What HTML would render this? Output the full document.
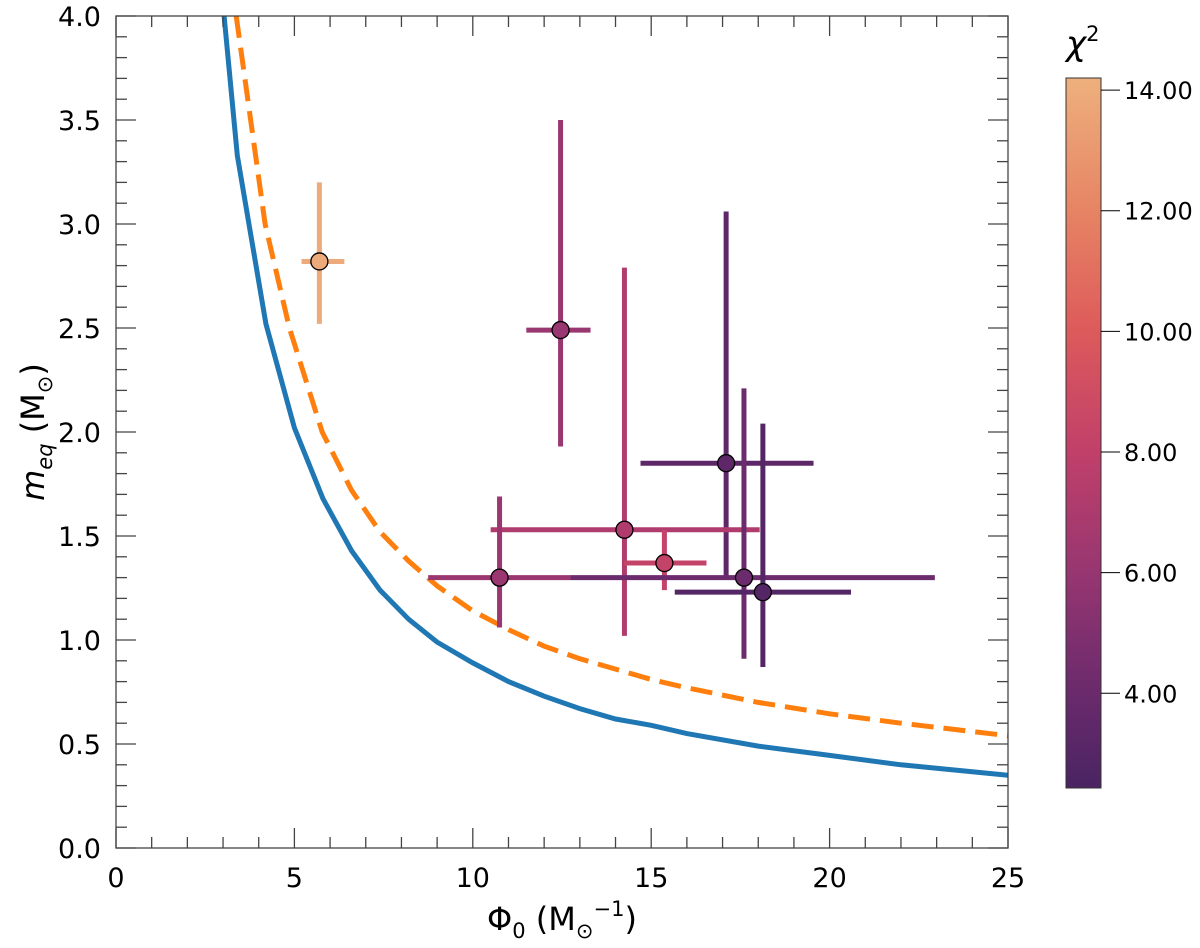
<!DOCTYPE html>
<html><head><meta charset="utf-8"><style>
body{margin:0;background:#fff;}
svg{display:block;font-family:"DejaVu Sans","Liberation Sans",sans-serif;}
</style></head><body>
<svg id="chart" width="1200" height="948" viewBox="0 0 1200 948" xmlns="http://www.w3.org/2000/svg">
<defs>
<linearGradient id="cbgrad" x1="0" y1="1" x2="0" y2="0">
<stop offset="0" stop-color="#4a2462"/><stop offset="0.133" stop-color="#6a2a6c"/><stop offset="0.303" stop-color="#973671"/><stop offset="0.473" stop-color="#c0406a"/><stop offset="0.643" stop-color="#dd5a5b"/><stop offset="0.813" stop-color="#e68464"/><stop offset="1" stop-color="#eeb07d"/>
</linearGradient>
</defs>
<g id="plot"></g>
<g id="cbar"></g>
</svg>
<script>
const xTicks=[0,5,10,15,20,25];
const yTicks=[0.0,0.5,1.0,1.5,2.0,2.5,3.0,3.5,4.0];
const blueX=[3.03,3.4,4.2,5.0,5.8,6.6,7.4,8.2,9,10,11,12,13,14,15,16,18,20,22,25];
const blueY=[4.0,3.33,2.52,2.02,1.68,1.43,1.24,1.1,0.99,0.89,0.80,0.73,0.67,0.62,0.59,0.55,0.49,0.445,0.40,0.35];
const orangeX=[3.37,4.18,4.86,5.78,6.6,7.4,8.2,9,10,11,12,13,14,15,16,18,20,22,25];
const orangeY=[4.0,3.0,2.5,2.0,1.72,1.52,1.38,1.26,1.14,1.05,0.97,0.91,0.86,0.81,0.77,0.70,0.645,0.60,0.54];
const ptX=[5.7,12.46,17.1,14.25,15.37,10.75,17.6,18.13];
const ptY=[2.82,2.49,1.85,1.53,1.37,1.30,1.30,1.23];
const xLo=[5.2,11.5,14.7,10.5,14.23,8.75,12.74,15.66];
const xHi=[6.4,13.3,19.55,18.04,16.55,12.75,22.95,20.6];
const yLo=[2.52,1.93,1.30,1.02,1.24,1.06,0.91,0.87];
const yHi=[3.20,3.50,3.06,2.79,1.53,1.69,2.21,2.04];
const chi2=[13.9,6.1,3.4,7.2,8.2,6.2,4.1,2.9];
const cbTicks=[4,6,8,10,12,14];

const NS="http://www.w3.org/2000/svg";
const L=116,R=1008,T=16,B=848;
const sx=v=>L+(v/25)*(R-L);
const sy=v=>B-(v/4)*(B-T);
const CB={x:1066,w:35,top:78,bot:788,vmin:2.43,vmax:14.2};
const cy=v=>CB.bot-(v-CB.vmin)/(CB.vmax-CB.vmin)*(CB.bot-CB.top);
const stops=[[2.43,[74,36,98]],[4,[106,42,108]],[6,[151,54,113]],[8,[192,64,106]],[10,[221,90,91]],[12,[230,132,100]],[14.2,[238,176,125]]];
function cmap(v){for(let i=0;i<stops.length-1;i++){const a=stops[i],b=stops[i+1];if(v<=b[0]||i==stops.length-2){let t=Math.max(0,Math.min(1,(v-a[0])/(b[0]-a[0])));return 'rgb('+a[1].map((c,k)=>Math.round(c+(b[1][k]-c)*t)).join(',')+')';}}}
function el(tag,attrs,parent){const e=document.createElementNS(NS,tag);for(const k in attrs)e.setAttribute(k,attrs[k]);parent.appendChild(e);return e;}
const plot=document.getElementById('plot');
const cbar=document.getElementById('cbar');

function pathFrom(xs,ys){return xs.map((x,i)=>(i?'L':'M')+sx(x).toFixed(1)+','+sy(ys[i]).toFixed(1)).join(' ');}
const clip=el('clipPath',{id:'pc'},plot);el('rect',{x:L,y:T,width:R-L,height:B-T},clip);
const blue=el('path',{d:pathFrom(blueX,blueY),fill:'none',stroke:'#1f77b4','stroke-width':5,'clip-path':'url(#pc)'},plot);


const orange=el('path',{d:pathFrom(orangeX,orangeY),fill:'none',stroke:'#ff7f0e','stroke-width':5,'stroke-dasharray':'22,10','clip-path':'url(#pc)'},plot);



for(let i=0;i<ptX.length;i++){
  const c=cmap(chi2[i]);
  const g=el('g',{},plot);
  
  
  el('line',{x1:sx(xLo[i]),x2:sx(xHi[i]),y1:sy(ptY[i]),y2:sy(ptY[i]),stroke:c,'stroke-width':5},g);
  el('line',{x1:sx(ptX[i]),x2:sx(ptX[i]),y1:sy(yLo[i]),y2:sy(yHi[i]),stroke:c,'stroke-width':5},g);
}
for(let i=0;i<ptX.length;i++){
  const m=el('circle',{cx:sx(ptX[i]),cy:sy(ptY[i]),r:8.5,fill:cmap(chi2[i]),stroke:'#000','stroke-width':1.3},plot);
  
  
}

const fr=el('rect',{x:L,y:T,width:R-L,height:B-T,fill:'none',stroke:'#444','stroke-width':1.3},plot);


for(let v=0;v<=25;v+=1){
  const maj=v%5==0,len=maj?20:11,x=sx(v);
  el('line',{x1:x,x2:x,y1:B,y2:B-len,stroke:'#444','stroke-width':1.3},plot);
  el('line',{x1:x,x2:x,y1:T,y2:T+len,stroke:'#444','stroke-width':1.3},plot);
}
for(let k=0;k<=40;k++){
  const maj=k%5==0,len=maj?20:11,y=sy(k/10);
  el('line',{x1:L,x2:L+len,y1:y,y2:y,stroke:'#444','stroke-width':1.3},plot);
  el('line',{x1:R,x2:R-len,y1:y,y2:y,stroke:'#444','stroke-width':1.3},plot);
}
xTicks.forEach(v=>{const t=el('text',{x:sx(v),y:887,'font-size':27,'text-anchor':'middle',fill:'#000'},plot);t.textContent=v;
  
  });
yTicks.forEach(v=>{const t=el('text',{x:101,y:sy(v)+10,'font-size':27,'text-anchor':'end',fill:'#000'},plot);t.textContent=v.toFixed(1);
  
  });

const cr=el('rect',{x:CB.x,y:CB.top,width:CB.w,height:CB.bot-CB.top,fill:'url(#cbgrad)',stroke:'#333','stroke-width':1},cbar);


cbTicks.forEach(v=>{const y=cy(v);
  el('line',{x1:CB.x+CB.w,x2:CB.x+CB.w+19,y1:y,y2:y,stroke:'#000','stroke-width':1},cbar);
  const t=el('text',{x:1124,y:y+9,'font-size':24,fill:'#000'},cbar);t.textContent=v.toFixed(2);
  
  });
</script>
<div style="position:absolute;left:0;top:0;width:1200px;height:948px;pointer-events:none;">
<svg width="1200" height="948" style="font-family:'DejaVu Sans','Liberation Sans',sans-serif">
<text x="1066" y="55" font-size="34" font-style="italic">χ<tspan font-size="21" dy="-14" font-style="normal">2</tspan></text>
<text x="562" y="930" font-size="32" text-anchor="middle">Φ<tspan font-size="21" dy="8">0</tspan><tspan dy="-8"> (M</tspan><tspan font-size="21" dy="8">⊙</tspan><tspan font-size="21" dy="-22">−1</tspan><tspan dy="14">)</tspan></text>
<text transform="translate(44,432) rotate(-90)" font-size="32" text-anchor="middle"><tspan font-style="italic">m</tspan><tspan font-size="21" dy="8" font-style="italic">eq</tspan><tspan dy="-8"> (M</tspan><tspan font-size="21" dy="8">⊙</tspan><tspan dy="-8">)</tspan></text>
</svg></div>
</body></html>
